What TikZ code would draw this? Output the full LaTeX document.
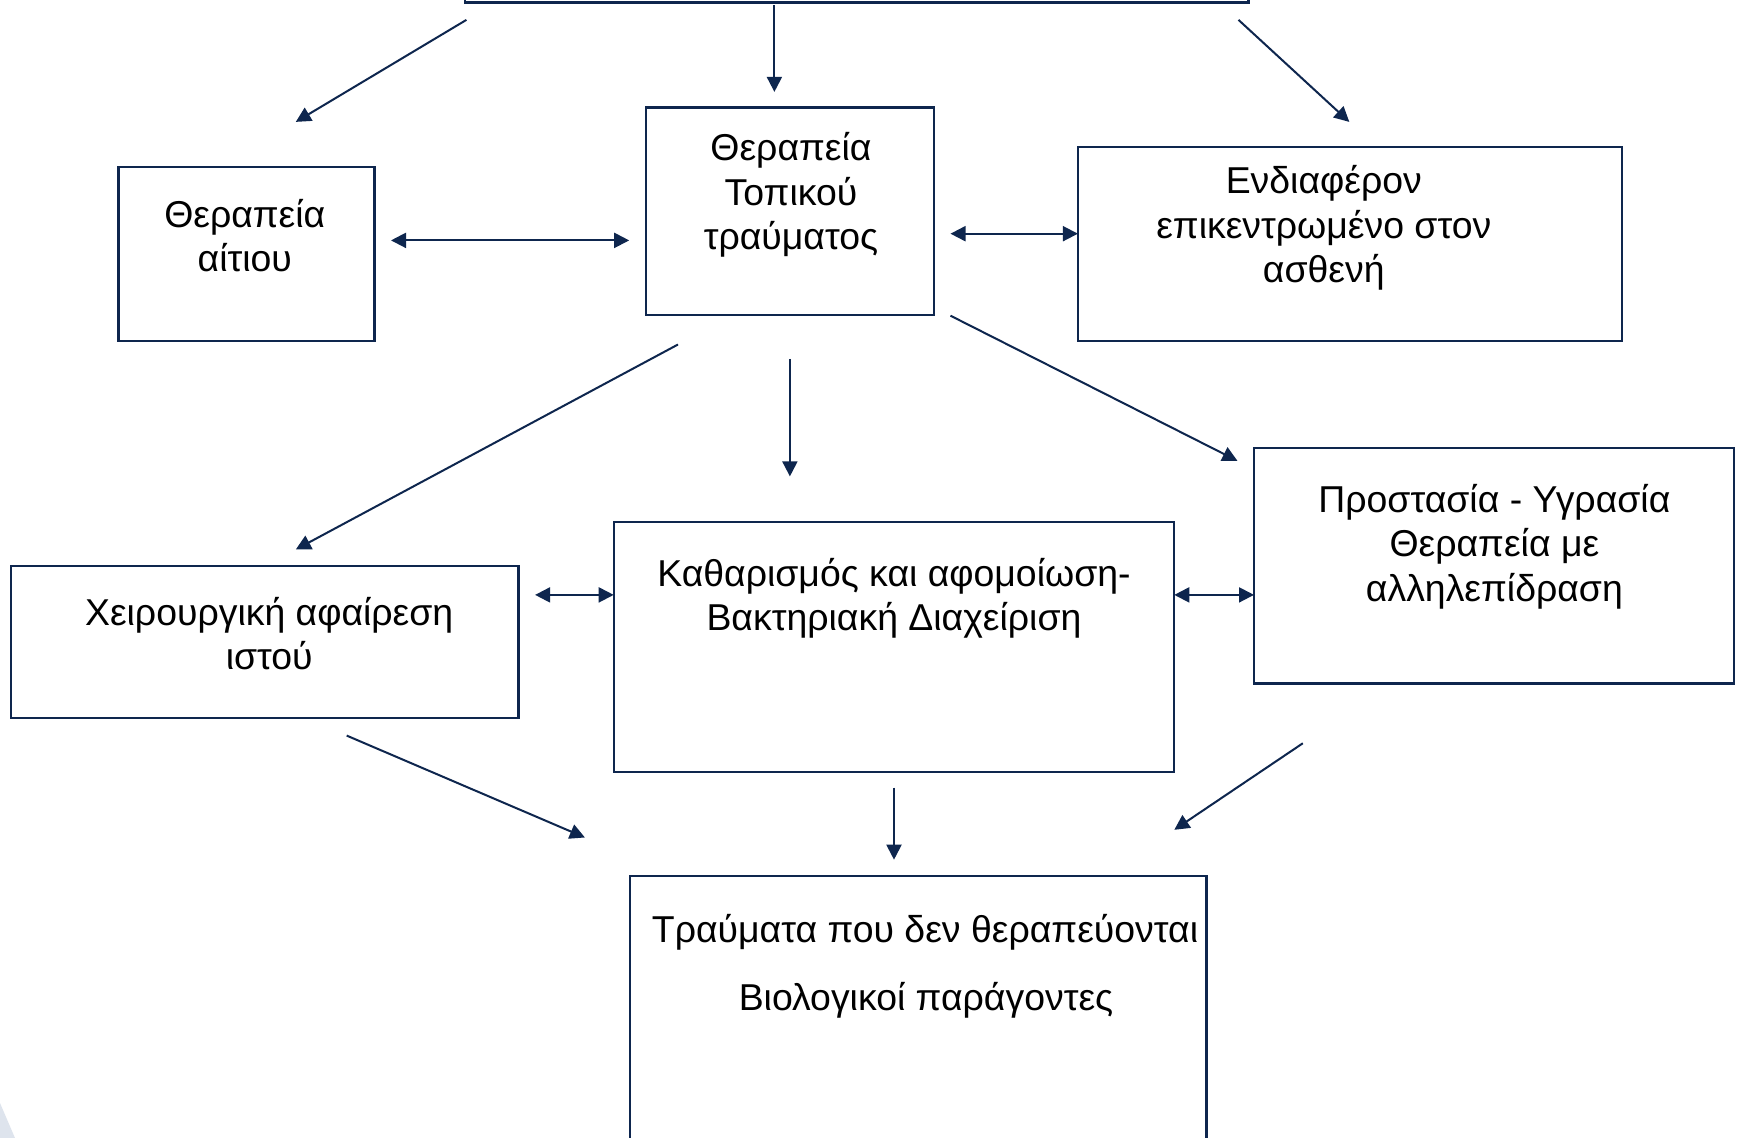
\documentclass[tikz,border=0pt]{standalone}
\usepackage{fontspec}
\setmainfont{Liberation Sans}
\usetikzlibrary{arrows.meta}
\definecolor{navy}{RGB}{14,38,78}
\definecolor{ghost}{RGB}{222,228,237}
\tikzset{
  box/.style={draw=navy, line width=1.1pt, inner sep=0pt, outer sep=0pt, rectangle},
  txt/.style={align=center, inner sep=0pt, font=\fontsize{18.7}{22.2}\selectfont, text=black},
  conn/.style={navy, line width=1pt, -{Triangle[length=7.5pt,width=7.5pt]}},
  both/.style={navy, line width=1pt, {Triangle[length=7.5pt,width=7.5pt]}-{Triangle[length=7.5pt,width=7.5pt]}}
}
\begin{document}
\begin{tikzpicture}[x=0.5pt,y=-0.5pt]
\useasboundingbox (0,0) rectangle (1737,1138);
\clip (0,0) rectangle (1737,1138);
\fill[white] (0,0) rectangle (1737,1138);
\fill[ghost] (0,1103) -- (15,1138) -- (0,1138) -- cycle;

% boxes
\node[box, minimum width=391.75pt, minimum height=21.25pt] (b0) at (856.75,-18.75) {};
\node[box, minimum width=127.95pt, minimum height=86.95pt] (b1) at (246.5,254.3) {};
\node[box, minimum width=144pt, minimum height=103.55pt] (b2) at (789.9,211.1) {};
\node[box, minimum width=271.95pt, minimum height=96.95pt] (b3) at (1349.9,244.3) {};
\node[box, minimum width=253.65pt, minimum height=75.9pt] (b4) at (264.8,642) {};
\node[box, minimum width=280.3pt, minimum height=125.2pt] (b5) at (894,647) {};
\node[box, minimum width=239.85pt, minimum height=117.95pt] (b6) at (1493.9,565.6) {};
\node[box, minimum width=288.05pt, minimum height=142pt] (b7) at (918.35,1018) {};

% texts
\node[txt] (t1) at (244.8,235.8) {Θεραπεία\\αίτιου};
\node[txt] (t2) at (791,195) {Θεραπεία\\Τοπικού\\τραύματος};
\node[txt] (t3) at (1323.8,228) {Ενδιαφέρον\\επικεντρωμένο στον\\ασθενή};
\node[txt] (t4) at (269.2,633.7) {Χειρουργική αφαίρεση\\ιστού};
\node[txt] (t5) at (894,598.4) {Καθαρισμός και αφομοίωση-\\Βακτηριακή Διαχείριση};
\node[txt] (t6) at (1494.4,546.4) {Προστασία - Υγρασία\\Θεραπεία με\\αλληλεπίδραση};
\node[txt] (t7a) at (925,932.5) {Τραύματα που δεν θεραπεύονται};
\node[txt] (t7b) at (926,1000.5) {Βιολογικοί παράγοντες};

% connector ends
\coordinate (a1s) at (466.4,19.9);  \coordinate (a1e) at (295.8,121.9);
\coordinate (a2s) at (774.4,5.5);   \coordinate (a2e) at (774.4,91.9);
\coordinate (a3s) at (1238.5,19.9); \coordinate (a3e) at (1349.3,121.9);
\coordinate (d1s) at (391,240.4);   \coordinate (d1e) at (629.2,240.4);
\coordinate (d2s) at (950.5,233.7); \coordinate (d2e) at (1077.9,233.7);
\coordinate (a4s) at (678,344.5);   \coordinate (a4e) at (295.8,549.5);
\coordinate (a5s) at (789.9,358.9); \coordinate (a5e) at (789.9,476.4);
\coordinate (a6s) at (950.5,315.7); \coordinate (a6e) at (1237.4,460.8);
\coordinate (d3s) at (535.1,594.9); \coordinate (d3e) at (613.7,594.9);
\coordinate (d4s) at (1174.3,594.9);\coordinate (d4e) at (1254,594.9);
\coordinate (a7s) at (346.7,735.6); \coordinate (a7e) at (584.9,837.5);
\coordinate (a8s) at (894,787.6);   \coordinate (a8e) at (894,859.7);
\coordinate (a9s) at (1302.8,743.3);\coordinate (a9e) at (1174.3,829.8);

\draw[conn] (a1s) -- (a1e);
\draw[conn] (a2s) -- (a2e);
\draw[conn] (a3s) -- (a3e);
\draw[both] (d1s) -- (d1e);
\draw[both] (d2s) -- (d2e);
\draw[conn] (a4s) -- (a4e);
\draw[conn] (a5s) -- (a5e);
\draw[conn] (a6s) -- (a6e);
\draw[both] (d3s) -- (d3e);
\draw[both] (d4s) -- (d4e);
\draw[conn] (a7s) -- (a7e);
\draw[conn] (a8s) -- (a8e);
\draw[conn] (a9s) -- (a9e);
\end{tikzpicture}
\end{document}
